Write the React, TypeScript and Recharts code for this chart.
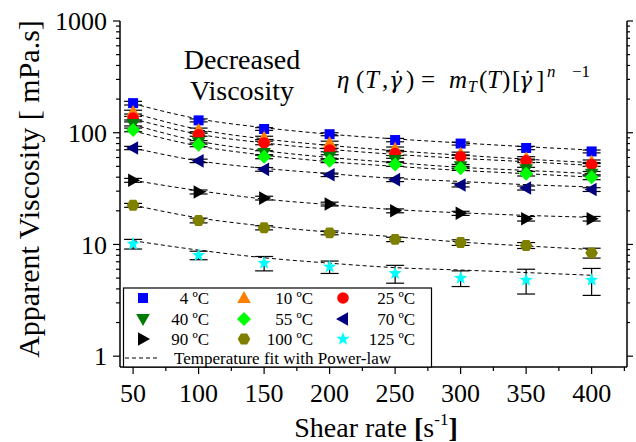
import React from "react";
import { ComposedChart, Scatter, Line, XAxis, YAxis, ErrorBar } from "recharts";

// shear rates [1/s]
const rates = [50, 100, 150, 200, 250, 300, 350, 400];

// apparent viscosity [mPa.s] per temperature
const visc4 = [184, 129, 108, 97, 86, 80, 73, 68];
const visc10 = [153, 106, 90, 81, 72, 65, 59, 55];
const visc25 = [135, 96, 81, 70, 65, 61, 56, 52];
const visc40 = [120, 82, 66, 61, 57, 50, 47, 43];
const visc55 = [106, 78, 61, 56, 52, 48, 43, 40];
const visc70 = [73, 56, 47, 42, 38, 34, 32, 31];
const visc90 = [37.5, 29.5, 26, 23, 20, 19, 17, 17];
const visc100 = [22.4, 16.4, 14.1, 12.7, 11.1, 10.4, 9.8, 8.4];
const visc125 = [10.1, 8.0, 6.8, 6.3, 5.5, 5.0, 4.8, 4.8];

// standard deviations
const err4 = [7, 4, 3, 3, 3, 2.5, 2.5, 2];
const err10 = [6, 4, 3, 3, 2.5, 2, 2, 2];
const err25 = [5, 3, 3, 2.5, 2.5, 2, 2, 2];
const err40 = [5, 3, 3, 2.5, 2, 2, 2, 2];
const err55 = [4, 3, 2.5, 2, 2, 2, 2, 2];
const err70 = [2.5, 2, 1.8, 1.5, 1.5, 1.3, 1.3, 1.2];
const err90 = [1.5, 1.2, 1, 0.9, 0.8, 0.8, 0.8, 0.8];
const err100 = [0.9, 0.8, 0.6, 0.5, 0.5, 0.6, 0.6, 0.85];
const err125 = [1.0, 0.7, 1.0, 0.8, 1.0, 0.8, 1.2, 1.3];

// power-law fit curves
const fit4 = [182, 133, 111, 97, 88, 81, 75, 70];
const fit10 = [150, 107, 88, 77, 69, 63, 58, 54];
const fit25 = [133, 97, 81, 71, 64, 59, 55, 51];
const fit40 = [118, 84, 69, 60, 54, 49, 46, 43];
const fit55 = [104, 76, 63, 55, 50, 46, 43, 40];
const fit70 = [73, 56, 48, 43, 39, 36.6, 34.3, 32.7];
const fit90 = [37.5, 30.3, 25.5, 22.7, 20.5, 19.2, 18.2, 17.5];
const fit100 = [22.5, 17.3, 14.6, 12.9, 11.7, 10.5, 9.7, 9.0];
const fit125 = [10.8, 8.9, 7.6, 6.8, 6.2, 5.9, 5.6, 5.3];

const xTicks = [50, 75, 100, 125, 150, 175, 200, 225, 250, 275, 300, 325, 350, 375, 400, 425];
const yTicks = [
  1, 2, 3, 4, 5, 6, 7, 8, 9, 10, 20, 30, 40, 50, 60, 70, 80, 90, 100, 200, 300, 400, 500, 600, 700,
  800, 900, 1000,
];
const xLabels = [50, 100, 150, 200, 250, 300, 350, 400];
const yLabels = [1, 10, 100, 1000];

const series = [
  { key: "t4", label: "4", color: "#0000ff", kind: "square", values: visc4, errors: err4, fit: fit4 },
  { key: "t10", label: "10", color: "#ff7f00", kind: "up", values: visc10, errors: err10, fit: fit10 },
  { key: "t25", label: "25", color: "#ff0000", kind: "circle", values: visc25, errors: err25, fit: fit25 },
  { key: "t40", label: "40", color: "#007a00", kind: "down", values: visc40, errors: err40, fit: fit40 },
  { key: "t55", label: "55", color: "#00ff00", kind: "diamond", values: visc55, errors: err55, fit: fit55 },
  { key: "t70", label: "70", color: "#000080", kind: "left", values: visc70, errors: err70, fit: fit70 },
  { key: "t90", label: "90", color: "#000000", kind: "right", values: visc90, errors: err90, fit: fit90 },
  { key: "t100", label: "100", color: "#808000", kind: "hex", values: visc100, errors: err100, fit: fit100 },
  { key: "t125", label: "125", color: "#00ffff", kind: "star", values: visc125, errors: err125, fit: fit125 },
];

const rows = rates.map((rate, i) => {
  const row: Record<string, number> = { rate };
  series.forEach((s) => {
    row[s.key] = s.values[i];
    row["e" + s.key] = s.errors[i];
    row["f" + s.key] = s.fit[i];
  });
  return row;
});

const FONT = "'Liberation Serif', 'Times New Roman', serif";

function Marker({ kind, cx, cy, fill }: { kind: string; cx: number; cy: number; fill: string }) {
  const pts = (arr: number[][]) => arr.map((p) => `${cx + p[0]},${cy + p[1]}`).join(" ");
  switch (kind) {
    case "square":
      return <rect x={cx - 5} y={cy - 5} width={10} height={10} fill={fill} />;
    case "circle":
      return <circle cx={cx} cy={cy} r={5.8} fill={fill} />;
    case "up":
      return <polygon points={pts([[0, -7], [6.8, 5], [-6.8, 5]])} fill={fill} />;
    case "down":
      return <polygon points={pts([[0, 7], [6.8, -5], [-6.8, -5]])} fill={fill} />;
    case "left":
      return <polygon points={pts([[-7, 0], [5, -6.8], [5, 6.8]])} fill={fill} />;
    case "right":
      return <polygon points={pts([[7, 0], [-5, -6.8], [-5, 6.8]])} fill={fill} />;
    case "diamond":
      return <polygon points={pts([[0, -7], [7, 0], [0, 7], [-7, 0]])} fill={fill} />;
    case "hex": {
      const arr: number[][] = [];
      for (let k = 0; k < 6; k++) {
        const a = (Math.PI / 3) * k;
        arr.push([6.3 * Math.cos(a), 6.3 * Math.sin(a)]);
      }
      return <polygon points={pts(arr)} fill={fill} />;
    }
    case "star": {
      const arr: number[][] = [];
      for (let k = 0; k < 10; k++) {
        const a = -Math.PI / 2 + (Math.PI / 5) * k;
        const r = k % 2 === 0 ? 7 : 2.9;
        arr.push([r * Math.cos(a), r * Math.sin(a)]);
      }
      return <polygon points={pts(arr)} fill={fill} />;
    }
    default:
      return null;
  }
}

const BottomTick = (p: any) => {
  const v = p.payload.value;
  const major = xLabels.includes(v);
  return (
    <g>
      <line x1={p.x} x2={p.x} y1={p.y} y2={p.y + (major ? 7 : 4)} stroke="#000" strokeWidth={1.2} />
      {major && (
        <text x={p.x} y={p.y + 35} textAnchor="middle" fontFamily={FONT} fontSize={26} fill="#000">
          {v}
        </text>
      )}
    </g>
  );
};

const TopTick = (p: any) => {
  const major = xLabels.includes(p.payload.value);
  return <line x1={p.x} x2={p.x} y1={p.y} y2={p.y + (major ? 7 : 4)} stroke="#000" strokeWidth={1.2} />;
};

const LeftTick = (p: any) => {
  const v = p.payload.value;
  const major = yLabels.includes(v);
  return (
    <g>
      <line x1={p.x - (major ? 7 : 4)} x2={p.x} y1={p.y} y2={p.y} stroke="#000" strokeWidth={1.2} />
      {major && (
        <text x={p.x - 13} y={p.y} dy="0.35em" textAnchor="end" fontFamily={FONT} fontSize={26} fill="#000">
          {v}
        </text>
      )}
    </g>
  );
};

const RightTick = (p: any) => {
  const major = yLabels.includes(p.payload.value);
  return <line x1={p.x} x2={p.x + (major ? 6 : 3)} y1={p.y} y2={p.y} stroke="#000" strokeWidth={1.2} />;
};

const axisLine = { stroke: "#000", strokeWidth: 1.5 };

const legendCols = [143, 244, 343];
const legendEnds = [209, 313, 415];
const legendRows = [298, 319, 339];

export default function App() {
  return (
    <div style={{ position: "absolute", left: 0, top: 0, width: 636, height: 442, background: "#fff" }}>
      <ComposedChart width={636} height={442} data={rows} margin={{ top: 21, right: 0, bottom: 0, left: 0 }}>
        <XAxis
          dataKey="rate"
          type="number"
          domain={[40, 427]}
          allowDataOverflow
          ticks={xTicks}
          interval={0}
          tickSize={0}
          tickMargin={0}
          height={75}
          axisLine={axisLine}
          tickLine={false}
          tick={BottomTick}
        />
        <XAxis
          xAxisId="top"
          orientation="top"
          type="number"
          domain={[40, 427]}
          allowDataOverflow
          ticks={xTicks}
          interval={0}
          tickSize={0}
          tickMargin={0}
          height={0}
          axisLine={axisLine}
          tickLine={false}
          tick={TopTick}
        />
        <YAxis
          type="number"
          scale="log"
          domain={[0.8, 1000]}
          allowDataOverflow
          ticks={yTicks}
          interval={0}
          tickSize={0}
          tickMargin={0}
          width={120}
          axisLine={axisLine}
          tickLine={false}
          tick={LeftTick}
        />
        <YAxis
          yAxisId="right"
          orientation="right"
          type="number"
          scale="log"
          domain={[0.8, 1000]}
          allowDataOverflow
          ticks={yTicks}
          interval={0}
          tickSize={0}
          tickMargin={0}
          width={9}
          axisLine={axisLine}
          tickLine={false}
          tick={RightTick}
        />
        {series.map((s) => (
          <Line
            key={"f" + s.key}
            dataKey={"f" + s.key}
            type="monotone"
            stroke="#000"
            strokeWidth={1}
            strokeDasharray="4 3"
            dot={false}
            activeDot={false}
            isAnimationActive={false}
          />
        ))}
        {series.map((s) => (
          <Scatter
            key={s.key}
            dataKey={s.key}
            isAnimationActive={false}
            shape={(p: any) => <Marker kind={s.kind} cx={p.cx} cy={p.cy} fill={s.color} />}
          >
            <ErrorBar
              dataKey={"e" + s.key}
              direction="y"
              width={9}
              stroke="#000"
              strokeWidth={1.2}
              isAnimationActive={false}
            />
          </Scatter>
        ))}
      </ComposedChart>

      <svg
        width={636}
        height={442}
        style={{ position: "absolute", left: 0, top: 0, pointerEvents: "none" }}
        fontFamily={FONT}
      >
        {/* legend */}
        <rect x={123.5} y={288} width={308} height={79} fill="#fff" stroke="#000" strokeWidth={1.2} />
        {series.map((s, i) => {
          const c = i % 3;
          const r = Math.floor(i / 3);
          return (
            <g key={"lg" + s.key}>
              <Marker kind={s.kind} cx={legendCols[c]} cy={legendRows[r]} fill={s.color} />
              <text x={legendEnds[c]} y={legendRows[r]} dy="0.35em" textAnchor="end" fontSize={17}>
                {s.label} ºC
              </text>
            </g>
          );
        })}
        <line x1={125} x2={158} y1={358} y2={358} stroke="#000" strokeDasharray="4 3" />
        <text x={174} y={358} dy="0.35em" fontSize={17}>
          Temperature fit with Power-law
        </text>

        {/* annotations */}
        <text x={242} y={69} textAnchor="middle" fontSize={28}>
          Decreased
        </text>
        <text x={242} y={100} textAnchor="middle" fontSize={28}>
          Viscosity
        </text>
        <text fontSize={25} y={88}>
          <tspan x={337} y={88} fontStyle="italic">η</tspan>
          <tspan x={356} y={88}>(</tspan>
          <tspan x={365} y={88} fontStyle="italic">T</tspan>
          <tspan x={382} y={88}>,</tspan>
          <tspan x={389} y={88} fontStyle="italic" fontFamily="'DejaVu Serif'" fontSize={22}>
            γ̇
          </tspan>
          <tspan x={406} y={88}>)</tspan>
          <tspan x={421} y={88}>=</tspan>
          <tspan x={449} y={88} fontStyle="italic">m</tspan>
          <tspan x={468} y={92} fontSize={16} fontStyle="italic">T</tspan>
          <tspan x={479} y={88}>(</tspan>
          <tspan x={487} y={88} fontStyle="italic">T</tspan>
          <tspan x={502} y={88}>)</tspan>
          <tspan x={512} y={88}>[</tspan>
          <tspan x={519} y={88} fontStyle="italic" fontFamily="'DejaVu Serif'" fontSize={22}>
            γ̇
          </tspan>
          <tspan x={536} y={88}>]</tspan>
          <tspan x={547} y={77} fontSize={17} fontStyle="italic">n</tspan>
          <tspan x={572} y={77} fontSize={17}>−1</tspan>
        </text>

        {/* axis titles */}
        <text x={28} y={189} dy="0.35em" textAnchor="middle" fontSize={30} transform="rotate(-90 28 189)">
          Apparent Viscosity [ mPa.s]
        </text>
        <text x={376} y={437} textAnchor="middle" fontSize={28}>
          Shear rate <tspan fontWeight="bold">[</tspan>s<tspan fontSize={17} dy={-12}>-1</tspan>
          <tspan dy={12} fontWeight="bold">
            ]
          </tspan>
        </text>
      </svg>
    </div>
  );
}
